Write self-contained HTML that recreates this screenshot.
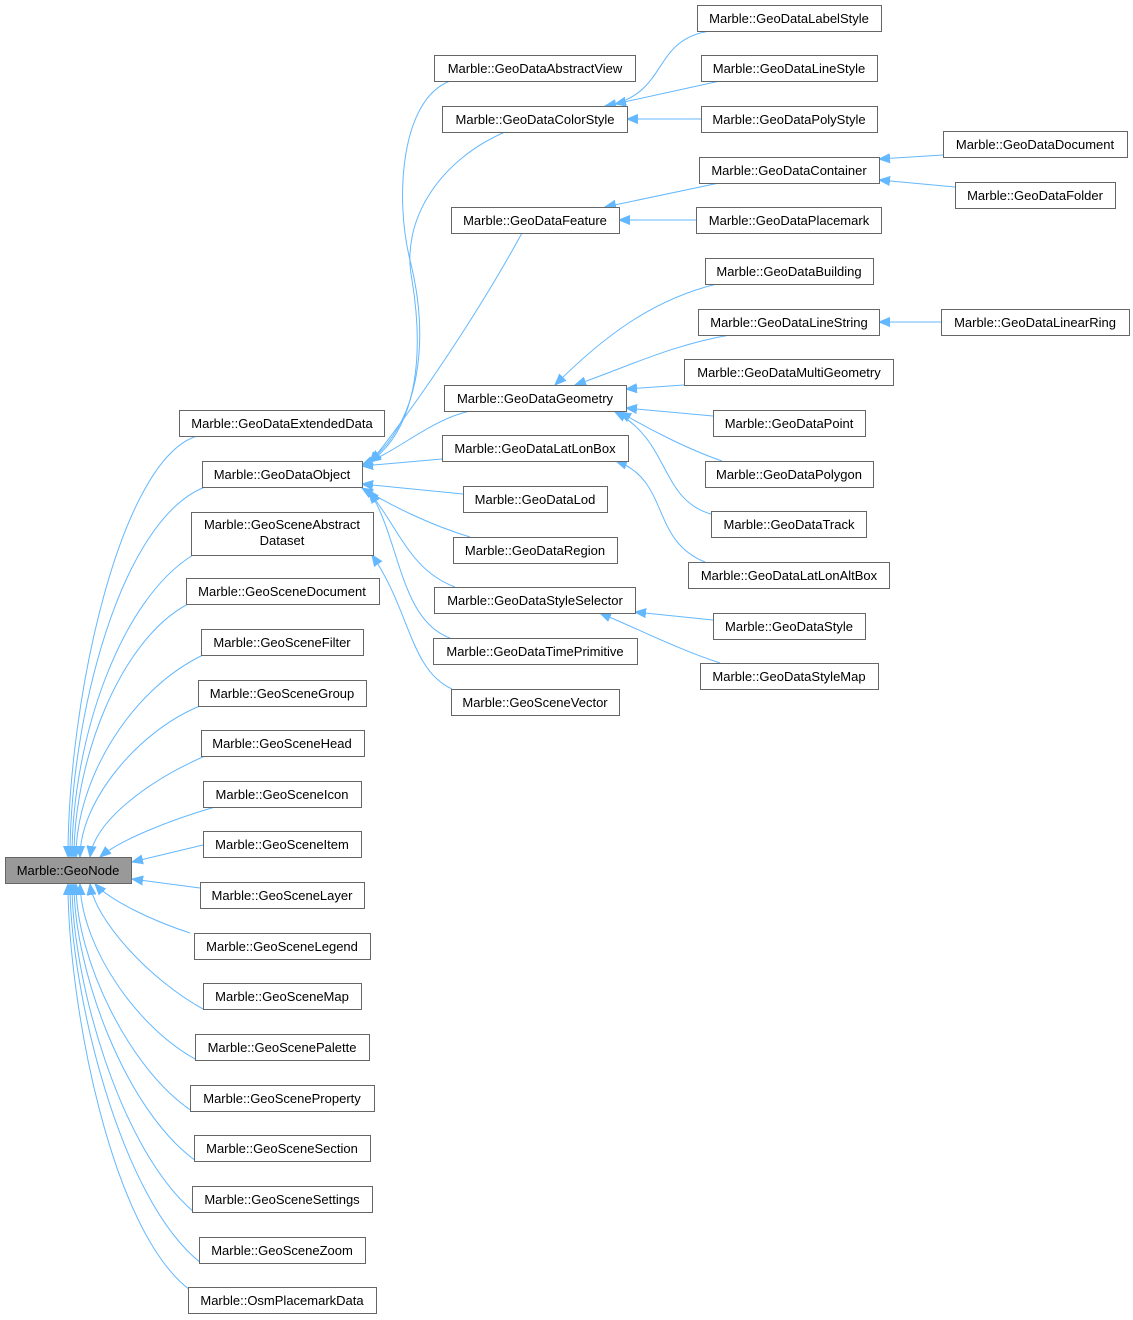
<!DOCTYPE html>
<html><head><meta charset="utf-8"><style>
html,body{margin:0;padding:0;background:#fff;}
svg{display:block;}
text{font-family:"Liberation Sans",sans-serif;font-size:13px;fill:#000;}
.b{fill:#fff;stroke:#666;stroke-width:1;}
.e{fill:none;stroke:#63b8ff;stroke-width:1;}
</style></head><body>
<svg width="1133" height="1320" viewBox="0 0 1133 1320" xmlns="http://www.w3.org/2000/svg">
<defs><marker id="a" markerWidth="12" markerHeight="10" refX="11" refY="5" orient="auto" markerUnits="userSpaceOnUse"><path d="M0,0.5 L11,5 L0,9.5 z" fill="#63b8ff" stroke="#63b8ff"/></marker></defs>
<g marker-end="url(#a)">
<!-- to GeoNode -->
<path class="e" d="M197,436 C120,460 68,700 68,857"/>
<path class="e" d="M205,487 C120,520 70,720 70,857"/>
<path class="e" d="M193,555 C120,600 72,740 72,857"/>
<path class="e" d="M188,604 C120,640 74,760 74,857"/>
<path class="e" d="M203,655 C130,690 76,780 76,857"/>
<path class="e" d="M200,706 C140,730 80,800 80,857"/>
<path class="e" d="M205,756 C150,780 95,820 90,857"/>
<path class="e" d="M215,807 C170,820 120,840 100,857"/>
<path class="e" d="M203,845 L132,862"/>
<path class="e" d="M200,888 L132,879"/>
<path class="e" d="M190,933 C150,920 110,900 95,884"/>
<path class="e" d="M203,1009 C150,980 95,920 90,884"/>
<path class="e" d="M197,1060 C140,1030 82,950 80,884"/>
<path class="e" d="M192,1111 C130,1070 76,960 76,884"/>
<path class="e" d="M196,1161 C125,1110 74,970 74,884"/>
<path class="e" d="M194,1212 C120,1150 72,980 72,884"/>
<path class="e" d="M201,1263 C120,1200 70,990 70,884"/>
<path class="e" d="M190,1290 C110,1230 68,1000 68,884"/>
<!-- to GeoDataObject -->
<path class="e" d="M450,81 C400,100 395,200 410,260 C430,340 420,420 370,461"/>
<path class="e" d="M505,132 C440,160 400,220 412,280 C425,360 415,430 370,462"/>
<path class="e" d="M522,233 C480,310 420,400 370,463"/>
<path class="e" d="M470,411 C430,420 400,450 362,465"/>
<path class="e" d="M442,459 L362,466"/>
<path class="e" d="M463,494 L362,484"/>
<path class="e" d="M470,537 C430,525 390,505 362,488"/>
<path class="e" d="M455,587 C410,570 400,530 368,490"/>
<path class="e" d="M450,638 C400,620 400,540 370,492"/>
<path class="e" d="M452,689 C410,670 410,610 372,555"/>
<!-- col3 -->
<path class="e" d="M710,31 C650,40 670,95 605,106"/>
<path class="e" d="M720,81 L615,104"/>
<path class="e" d="M701,119 L627,119"/>
<path class="e" d="M943,155 L879,159"/>
<path class="e" d="M955,187 L879,180"/>
<path class="e" d="M719,183 L605,207"/>
<path class="e" d="M696,220 L619,220"/>
<path class="e" d="M717,284 C650,300 600,340 555,385"/>
<path class="e" d="M730,335 C670,345 620,370 575,385"/>
<path class="e" d="M684,385 L626,389"/>
<path class="e" d="M713,416 L626,408"/>
<path class="e" d="M722,461 C690,450 650,430 620,412"/>
<path class="e" d="M711,514 C660,500 670,440 615,412"/>
<path class="e" d="M941,322 L879,322"/>
<path class="e" d="M705,562 C650,540 670,480 616,461"/>
<path class="e" d="M713,620 L635,612"/>
<path class="e" d="M720,663 C680,650 640,630 600,613"/>
</g>
<g>
<rect x="5.5" y="857.5" width="126" height="26" fill="#999" stroke="#666"/>
<text x="68" y="875" text-anchor="middle">Marble::GeoNode</text>
</g>
<g id="nodes">
<rect class="b" x="179.5" y="410.5" width="205" height="26"/><text x="282" y="428" text-anchor="middle">Marble::GeoDataExtendedData</text>
<rect class="b" x="202.5" y="461.5" width="160" height="26"/><text x="282" y="479" text-anchor="middle">Marble::GeoDataObject</text>
<rect class="b" x="191.5" y="512.5" width="182" height="43"/><text x="282" y="529" text-anchor="middle">Marble::GeoSceneAbstract</text><text x="282" y="545" text-anchor="middle">Dataset</text>
<rect class="b" x="186.5" y="578.5" width="193" height="26"/><text x="282" y="596" text-anchor="middle">Marble::GeoSceneDocument</text>
<rect class="b" x="201.5" y="629.5" width="162" height="26"/><text x="282" y="647" text-anchor="middle">Marble::GeoSceneFilter</text>
<rect class="b" x="198.5" y="680.5" width="168" height="26"/><text x="282" y="698" text-anchor="middle">Marble::GeoSceneGroup</text>
<rect class="b" x="201.5" y="730.5" width="163" height="26"/><text x="282" y="748" text-anchor="middle">Marble::GeoSceneHead</text>
<rect class="b" x="203.5" y="781.5" width="158" height="26"/><text x="282" y="799" text-anchor="middle">Marble::GeoSceneIcon</text>
<rect class="b" x="203.5" y="831.5" width="158" height="26"/><text x="282" y="849" text-anchor="middle">Marble::GeoSceneItem</text>
<rect class="b" x="200.5" y="882.5" width="164" height="26"/><text x="282" y="900" text-anchor="middle">Marble::GeoSceneLayer</text>
<rect class="b" x="194.5" y="933.5" width="176" height="26"/><text x="282" y="951" text-anchor="middle">Marble::GeoSceneLegend</text>
<rect class="b" x="203.5" y="983.5" width="158" height="26"/><text x="282" y="1001" text-anchor="middle">Marble::GeoSceneMap</text>
<rect class="b" x="195.5" y="1034.5" width="174" height="26"/><text x="282" y="1052" text-anchor="middle">Marble::GeoScenePalette</text>
<rect class="b" x="190.5" y="1085.5" width="184" height="26"/><text x="282" y="1103" text-anchor="middle">Marble::GeoSceneProperty</text>
<rect class="b" x="194.5" y="1135.5" width="176" height="26"/><text x="282" y="1153" text-anchor="middle">Marble::GeoSceneSection</text>
<rect class="b" x="192.5" y="1186.5" width="180" height="26"/><text x="282" y="1204" text-anchor="middle">Marble::GeoSceneSettings</text>
<rect class="b" x="199.5" y="1237.5" width="166" height="26"/><text x="282" y="1255" text-anchor="middle">Marble::GeoSceneZoom</text>
<rect class="b" x="188.5" y="1287.5" width="188" height="26"/><text x="282" y="1305" text-anchor="middle">Marble::OsmPlacemarkData</text>

<rect class="b" x="434.5" y="55.5" width="201" height="26"/><text x="535" y="73" text-anchor="middle">Marble::GeoDataAbstractView</text>
<rect class="b" x="442.5" y="106.5" width="185" height="26"/><text x="535" y="124" text-anchor="middle">Marble::GeoDataColorStyle</text>
<rect class="b" x="451.5" y="207.5" width="168" height="26"/><text x="535" y="225" text-anchor="middle">Marble::GeoDataFeature</text>
<rect class="b" x="444.5" y="385.5" width="182" height="26"/><text x="535" y="403" text-anchor="middle">Marble::GeoDataGeometry</text>
<rect class="b" x="442.5" y="435.5" width="186" height="26"/><text x="535" y="453" text-anchor="middle">Marble::GeoDataLatLonBox</text>
<rect class="b" x="463.5" y="486.5" width="144" height="26"/><text x="535" y="504" text-anchor="middle">Marble::GeoDataLod</text>
<rect class="b" x="453.5" y="537.5" width="164" height="26"/><text x="535" y="555" text-anchor="middle">Marble::GeoDataRegion</text>
<rect class="b" x="434.5" y="587.5" width="201" height="26"/><text x="535" y="605" text-anchor="middle">Marble::GeoDataStyleSelector</text>
<rect class="b" x="433.5" y="638.5" width="204" height="26"/><text x="535" y="656" text-anchor="middle">Marble::GeoDataTimePrimitive</text>
<rect class="b" x="451.5" y="689.5" width="168" height="26"/><text x="535" y="707" text-anchor="middle">Marble::GeoSceneVector</text>

<rect class="b" x="697.5" y="5.5" width="184" height="26"/><text x="789" y="23" text-anchor="middle">Marble::GeoDataLabelStyle</text>
<rect class="b" x="701.5" y="55.5" width="176" height="26"/><text x="789" y="73" text-anchor="middle">Marble::GeoDataLineStyle</text>
<rect class="b" x="701.5" y="106.5" width="176" height="26"/><text x="789" y="124" text-anchor="middle">Marble::GeoDataPolyStyle</text>
<rect class="b" x="699.5" y="157.5" width="180" height="26"/><text x="789" y="175" text-anchor="middle">Marble::GeoDataContainer</text>
<rect class="b" x="696.5" y="207.5" width="185" height="26"/><text x="789" y="225" text-anchor="middle">Marble::GeoDataPlacemark</text>
<rect class="b" x="705.5" y="258.5" width="168" height="26"/><text x="789" y="276" text-anchor="middle">Marble::GeoDataBuilding</text>
<rect class="b" x="698.5" y="309.5" width="181" height="26"/><text x="789" y="327" text-anchor="middle">Marble::GeoDataLineString</text>
<rect class="b" x="684.5" y="359.5" width="209" height="26"/><text x="789" y="377" text-anchor="middle">Marble::GeoDataMultiGeometry</text>
<rect class="b" x="713.5" y="410.5" width="152" height="26"/><text x="789" y="428" text-anchor="middle">Marble::GeoDataPoint</text>
<rect class="b" x="705.5" y="461.5" width="168" height="26"/><text x="789" y="479" text-anchor="middle">Marble::GeoDataPolygon</text>
<rect class="b" x="711.5" y="511.5" width="155" height="26"/><text x="789" y="529" text-anchor="middle">Marble::GeoDataTrack</text>
<rect class="b" x="688.5" y="562.5" width="201" height="26"/><text x="789" y="580" text-anchor="middle">Marble::GeoDataLatLonAltBox</text>
<rect class="b" x="713.5" y="613.5" width="152" height="26"/><text x="789" y="631" text-anchor="middle">Marble::GeoDataStyle</text>
<rect class="b" x="700.5" y="663.5" width="178" height="26"/><text x="789" y="681" text-anchor="middle">Marble::GeoDataStyleMap</text>

<rect class="b" x="943.5" y="131.5" width="184" height="26"/><text x="1035" y="149" text-anchor="middle">Marble::GeoDataDocument</text>
<rect class="b" x="955.5" y="182.5" width="160" height="26"/><text x="1035" y="200" text-anchor="middle">Marble::GeoDataFolder</text>
<rect class="b" x="941.5" y="309.5" width="188" height="26"/><text x="1035" y="327" text-anchor="middle">Marble::GeoDataLinearRing</text>
</g>
</svg>
</body></html>
